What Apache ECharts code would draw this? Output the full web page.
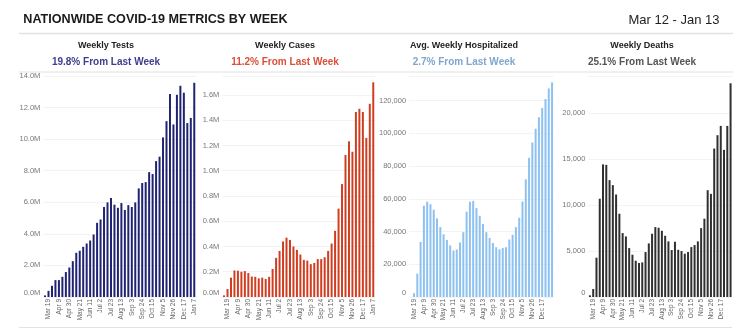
<!DOCTYPE html>
<html>
<head>
<meta charset="utf-8">
<script src="https://cdn.jsdelivr.net/npm/echarts@6/dist/echarts.min.js"></script>
<style>
html,body{margin:0;padding:0;background:#fff;}
#chart{width:754px;height:334px;}
</style>
</head>
<body>
<div id="chart"></div>
<script>
var weeks = ['Mar 12','Mar 19','Mar 26','Apr 2','Apr 9','Apr 16','Apr 23','Apr 30','May 7','May 14','May 21','May 28','Jun 4','Jun 11','Jun 18','Jun 25','Jul 2','Jul 9','Jul 16','Jul 23','Jul 30','Aug 6','Aug 13','Aug 20','Aug 27','Sep 3','Sep 10','Sep 17','Sep 24','Oct 1','Oct 8','Oct 15','Oct 22','Oct 29','Nov 5','Nov 12','Nov 19','Nov 26','Dec 3','Dec 10','Dec 17','Dec 24','Dec 31','Jan 7'];

var weeklyTests = [0.10,0.39,0.71,1.07,1.07,1.28,1.58,1.87,2.27,2.80,2.93,3.18,3.39,3.58,3.96,4.70,4.91,5.70,5.99,6.27,5.85,5.65,5.95,5.51,5.82,5.70,5.99,6.88,7.22,7.28,7.91,7.79,8.61,8.89,10.11,11.14,12.86,10.93,12.81,13.38,12.94,11.02,11.34,13.57]; // millions
var weeklyCases = [0.013,0.063,0.153,0.210,0.208,0.200,0.205,0.190,0.162,0.160,0.148,0.153,0.143,0.160,0.222,0.310,0.365,0.440,0.470,0.452,0.400,0.373,0.336,0.294,0.288,0.260,0.270,0.300,0.300,0.315,0.365,0.423,0.524,0.700,0.894,1.124,1.233,1.150,1.465,1.490,1.465,1.260,1.530,1.700]; // millions
var avgHospitalized = [0,2300,14300,33600,55800,58200,56700,53300,48000,42700,38300,34900,31500,28400,29000,33300,39600,52100,58200,58700,54300,49600,44600,39600,36000,33000,30400,29100,29900,30400,35100,38000,42700,48400,58300,71900,85000,94400,102800,109800,115400,120900,127400,131100];
var weeklyDeaths = [180,870,4270,10670,14400,14350,12690,12150,11130,9040,6940,6580,5310,4590,3940,3690,3760,4880,5820,6870,7590,7520,7190,6650,6040,5100,6000,5130,4990,4700,4880,5420,5640,6040,7480,8500,11600,11200,16120,17570,18580,15980,18580,23210];

var panelTitles = ['Weekly Tests','Weekly Cases','Avg. Weekly Hospitalized','Weekly Deaths'];
var panelChanges = ['19.8% From Last Week','11.2% From Last Week','2.7% From Last Week','25.1% From Last Week'];
var mainTitle = 'NATIONWIDE COVID-19 METRICS BY WEEK';
var dateRange = 'Mar 12 - Jan 13';

var FONT = '"Liberation Sans", Arial, sans-serif';
var barColors = ['#1f2372','#d03e22','#8dc1ef','#303030'];
var changeColors = ['#3c3e8b','#da4f37','#7fa6cd','#555555'];
var centers = [106, 285, 464, 642];
var grids = [
  {left:43.3, width:152.7},
  {left:222.3, width:152.7},
  {left:409.1, width:144.6},
  {left:588.3, width:143.9}
];
var yCfg = [
  {max:14, interval:2, fmt:function(v){return v.toFixed(1)+'M';}},
  {max:1.75, interval:0.2, fmt:function(v){return v.toFixed(1)+'M';}},
  {max:135000, interval:20000, fmt:function(v){return v.toLocaleString('en-US');}},
  {max:24000, interval:5000, fmt:function(v){return v.toLocaleString('en-US');}}
];
var seriesData = [
  weeklyTests.map(function(v){return v;}),
  weeklyCases.map(function(v){return v;}),
  avgHospitalized,
  weeklyDeaths
];

var option = {
  animation:false,
  backgroundColor:'#fff',
  grid:[], xAxis:[], yAxis:[], series:[],
  graphic:[]
};

for (var i=0;i<4;i++){
  (function(i){
    option.grid.push({left:grids[i].left, width:grids[i].width, top:76, bottom:37, containLabel:false});
    option.xAxis.push({
      type:'category', gridIndex:i, data:weeks,
      axisLine:{show:false}, axisTick:{show:false},
      axisLabel:{
        rotate:90, fontSize:6.5, color:'#666', fontFamily:FONT, margin:2,
        interval:function(idx){ if (i>=2 && idx===43) return false; return (idx-1)%3===0; }
      }
    });
    var c = yCfg[i];
    option.yAxis.push({
      type:'value', gridIndex:i, min:0, max:c.max, interval:c.interval,
      axisLine:{show:false}, axisTick:{show:false},
      splitLine:{lineStyle:{color:'#f3f3f3', width:1}},
      axisLabel:{
        fontSize:7.5, color:'#777', fontFamily:FONT, margin:3,
        showMaxLabel: i===0,
        formatter:function(v){ var s=c.fmt(v); return v===0 ? '{z|'+s+'}' : s; },
        rich:{ z:{fontSize:7.5, color:'#777', fontFamily:FONT, padding:[0,0,8,0]} }
      }
    });
    option.series.push({
      type:'bar', xAxisIndex:i, yAxisIndex:i, data:seriesData[i],
      barWidth:2, itemStyle:{color:barColors[i]}, silent:true
    });
    option.graphic.push({type:'text', x:centers[i], y:45.7, style:{text:panelTitles[i], fill:'#222', font:'bold 9px '+FONT, textAlign:'center', textVerticalAlign:'middle'}});
    option.graphic.push({type:'text', x:centers[i], y:62.7, style:{text:panelChanges[i], fill:changeColors[i], font:'bold 10px '+FONT, textAlign:'center', textVerticalAlign:'middle'}});
  })(i);
}

option.graphic.push({type:'text', x:23.3, y:20, style:{text:mainTitle, fill:'#1a1a1a', font:'bold 12.6px '+FONT, textAlign:'left', textVerticalAlign:'middle'}});
option.graphic.push({type:'text', x:719.5, y:20.7, style:{text:dateRange, fill:'#222', font:'13px '+FONT, textAlign:'right', textVerticalAlign:'middle'}});
option.graphic.push({type:'line', shape:{x1:19, y1:33.5, x2:733, y2:33.5}, style:{stroke:'#e2e2e2', lineWidth:1.5}});
option.graphic.push({type:'line', shape:{x1:19, y1:72, x2:733, y2:72}, style:{stroke:'#e2e2e2', lineWidth:1.2}});
option.graphic.push({type:'line', shape:{x1:19, y1:327.5, x2:732, y2:327.5}, style:{stroke:'#e2e2e2', lineWidth:1.2}});

var chart = echarts.init(document.getElementById('chart'), null, {renderer:'canvas', width:754, height:334});
chart.setOption(option);
</script>
</body>
</html>
